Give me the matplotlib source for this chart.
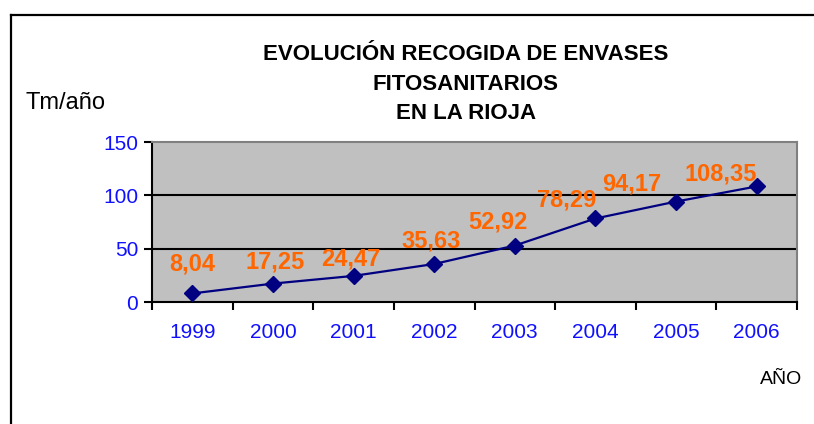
import matplotlib
matplotlib.use("Agg")
import matplotlib.pyplot as plt
from matplotlib.lines import Line2D

# data
years = ["1999", "2000", "2001", "2002", "2003", "2004", "2005", "2006"]
tons = [8.04, 17.25, 24.47, 35.63, 52.92, 78.29, 94.17, 108.35]
labels = ["8,04", "17,25", "24,47", "35,63", "52,92", "78,29", "94,17", "108,35"]

# where each label sits relative to its point (pixels)
label_offsets = [(0, 29), (2, 22), (-3, 17), (-3, 23), (-17, 24), (-29, 18), (-44, 18), (-36, 12)]

plt.rcParams["font.family"] = ["Liberation Sans", "DejaVu Sans"]

W, H = 814, 424
fig = plt.figure(figsize=(W / 100, H / 100), dpi=100)
ax = fig.add_axes([152 / W, 1 - 302 / H, (797 - 152) / W, (302 - 142) / H])

ax.set_facecolor("#c0c0c0")
x = list(range(len(years)))
ax.plot(x, tons, color="#000080", lw=1.6, marker="D", ms=8, zorder=3)

ax.set_xlim(-0.5, len(years) - 0.5)
ax.set_ylim(0, 150)
ax.set_yticks([0, 50, 100, 150])
ax.set_xticks([i - 0.5 for i in range(len(years) + 1)])
ax.set_xticklabels([])
ax.set_xticks(x, minor=True)
ax.set_xticklabels(years, minor=True)
ax.tick_params(axis="x", which="minor", length=0, pad=15, labelsize=15, labelcolor="#1010ff")
ax.tick_params(axis="x", which="major", length=6, width=1.5, direction="out")
ax.tick_params(axis="y", length=6, width=1.5, pad=4, labelsize=15, labelcolor="#1010ff")

for v in [50, 100]:
    ax.axhline(v, color="black", lw=1.5, zorder=1)

for side in ["top", "right"]:
    ax.spines[side].set_color("#808080")
    ax.spines[side].set_linewidth(1.5)
for side in ["left", "bottom"]:
    ax.spines[side].set_color("black")
    ax.spines[side].set_linewidth(1.5)

for xi, yi, lab, off in zip(x, tons, labels, label_offsets):
    ax.annotate(lab, (xi, yi), xytext=off, textcoords="offset pixels",
                ha="center", va="center", color="#ff6600", fontsize=17,
                fontweight="bold", zorder=4)

fig.text(466 / W, 1 - 84 / H,
         "EVOLUCIÓN RECOGIDA DE ENVASES\nFITOSANITARIOS\nEN LA RIOJA",
         ha="center", va="center", fontsize=16, fontweight="bold",
         linespacing=1.55)
fig.text(25 / W, 1 - 103 / H, "Tm/año", ha="left", va="center", fontsize=17)
fig.text(802 / W, 1 - 380 / H, "AÑO", ha="right", va="center", fontsize=14)

# frame of the chart, only top and left edges are visible
fig.add_artist(Line2D([11 / W, 1], [1 - 15 / H, 1 - 15 / H], color="black", lw=1.6,
                      transform=fig.transFigure))
fig.add_artist(Line2D([11 / W, 11 / W], [0, 1 - 15 / H], color="black", lw=1.6,
                      transform=fig.transFigure))

fig.savefig("out.png", dpi=100, facecolor="white")
